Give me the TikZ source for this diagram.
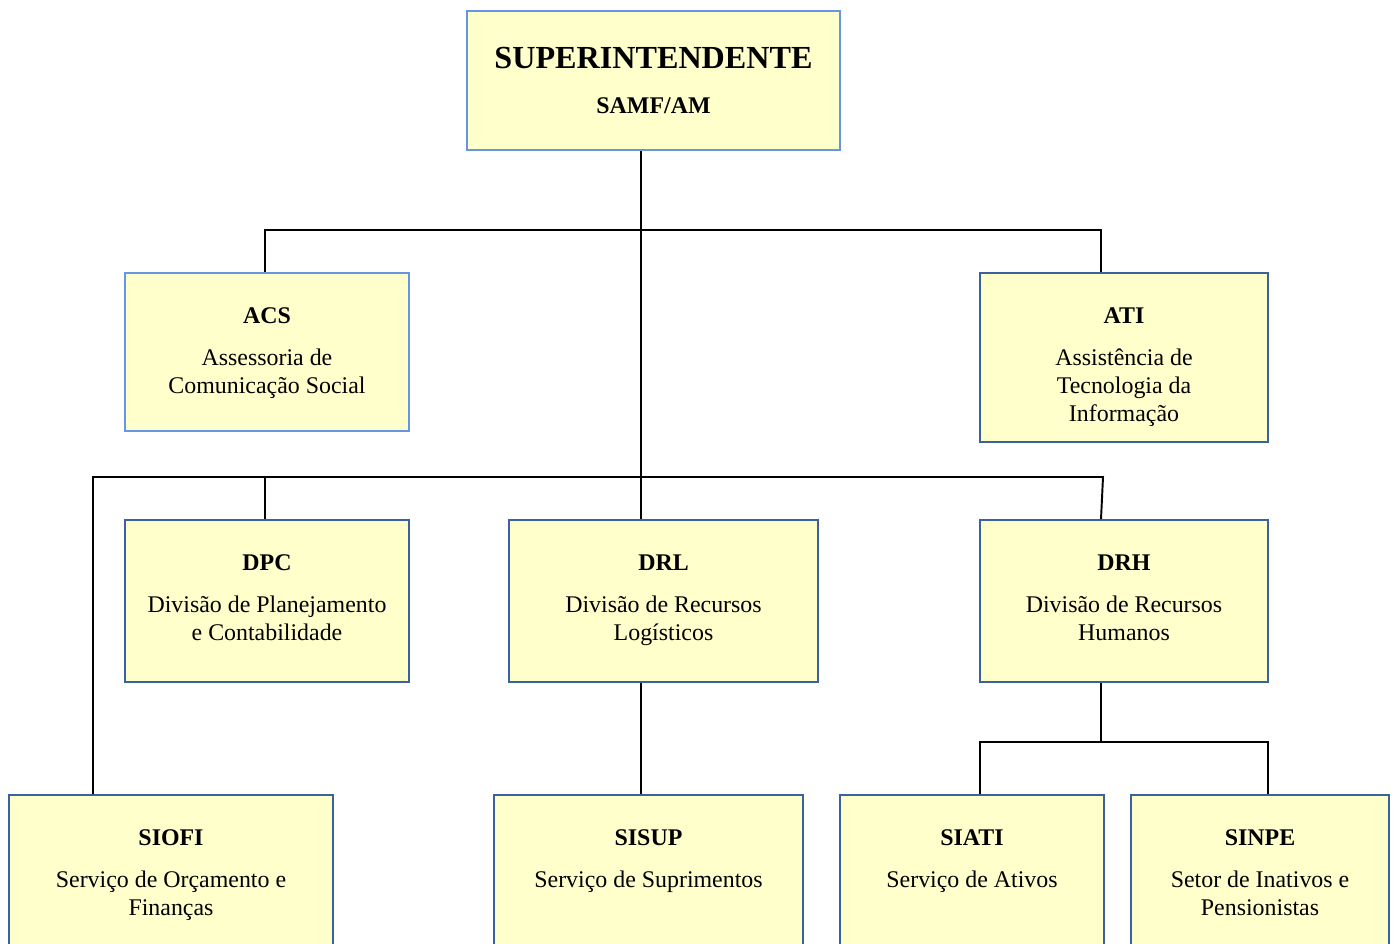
\documentclass[tikz,border=0pt]{standalone}
\usepackage{fontspec}
\setmainfont{Liberation Serif}
\usepackage{tikz}

\definecolor{boxfill}{RGB}{255,255,204}
\definecolor{lightframe}{RGB}{102,150,226}
\definecolor{darkframe}{RGB}{60,98,158}

\begin{document}
\begin{tikzpicture}[x=0.02cm,y=-0.02cm,
	unit/.style={rectangle,draw=darkframe,fill=boxfill,line width=1.1pt,inner sep=0pt},
	light unit/.style={unit,draw=lightframe},
	caption/.style={anchor=north,yshift=-0.70cm,align=center,inner sep=0pt,
		font=\fontsize{13.6}{16}\selectfont},
	link/.style={draw=black,line width=1.1pt}]
	\useasboundingbox (0,0) rectangle (1398,943);
	% boxes
	\node(sup) [light unit,minimum width=7.46cm,minimum height=2.78cm,align=center] at (653.5,80.5)
		{\fontsize{18.3}{22}\selectfont\bfseries SUPERINTENDENTE\\[14pt]\fontsize{13.6}{16}\selectfont\bfseries SAMF/AM};
	\node(acs) [light unit,minimum width=5.68cm,minimum height=3.16cm,
		label={[caption]north:{\textbf{ACS}\\[8pt]Assessoria de\\Comunicação Social}}] at (267,352) {};
	\node(ati) [unit,minimum width=5.76cm,minimum height=3.38cm,
		label={[caption]north:{\textbf{ATI}\\[8pt]Assistência de\\Tecnologia da\\Informação}}] at (1124,357.5) {};
	\node(dpc) [unit,minimum width=5.68cm,minimum height=3.24cm,
		label={[caption]north:{\textbf{DPC}\\[8pt]Divisão de Planejamento\\e Contabilidade}}] at (267,601) {};
	\node(drl) [unit,minimum width=6.18cm,minimum height=3.24cm,
		label={[caption]north:{\textbf{DRL}\\[8pt]Divisão de Recursos\\Logísticos}}] at (663.5,601) {};
	\node(drh) [unit,minimum width=5.76cm,minimum height=3.24cm,
		label={[caption]north:{\textbf{DRH}\\[8pt]Divisão de Recursos\\Humanos}}] at (1124,601) {};
	\node(siofi) [unit,minimum width=6.48cm,minimum height=3.24cm,
		label={[caption]north:{\textbf{SIOFI}\\[8pt]Serviço de Orçamento e\\Finanças}}] at (171,876) {};
	\node(sisup) [unit,minimum width=6.18cm,minimum height=3.24cm,
		label={[caption]north:{\textbf{SISUP}\\[8pt]Serviço de Suprimentos}}] at (648.5,876) {};
	\node(siati) [unit,minimum width=5.28cm,minimum height=3.24cm,
		label={[caption]north:{\textbf{SIATI}\\[8pt]Serviço de Ativos}}] at (972,876) {};
	\node(sinpe) [unit,minimum width=5.16cm,minimum height=3.24cm,
		label={[caption]north:{\textbf{SINPE}\\[8pt]Setor de Inativos e\\Pensionistas}}] at (1260,876) {};
	% junctions
	\coordinate (trunk) at (641,0);
	\coordinate (j1) at (265,230);
	\coordinate (j2) at (1101,230);
	\coordinate (k1) at (93,477);
	\coordinate (k2) at (265,477);
	\coordinate (k3) at (1103,477);
	\coordinate (m0) at (1101,742);
	\coordinate (m1) at (980,742);
	\coordinate (m2) at (1268,742);
	% connectors
	\draw[link] (sup.south -| trunk) -- (drl.north -| trunk);
	\draw[link] (acs.north -| j1) -- (j1) -- (j2) -- (ati.north -| j2);
	\draw[link] (siofi.north -| k1) -- (k1) -- (k3) -- (drh.north -| m0);
	\draw[link] (k2) -- (dpc.north -| k2);
	\draw[link] (drl.south -| trunk) -- (sisup.north -| trunk);
	\draw[link] (drh.south -| m0) -- (m0);
	\draw[link] (siati.north -| m1) -- (m1) -- (m2) -- (sinpe.north -| m2);
\end{tikzpicture}
\end{document}
